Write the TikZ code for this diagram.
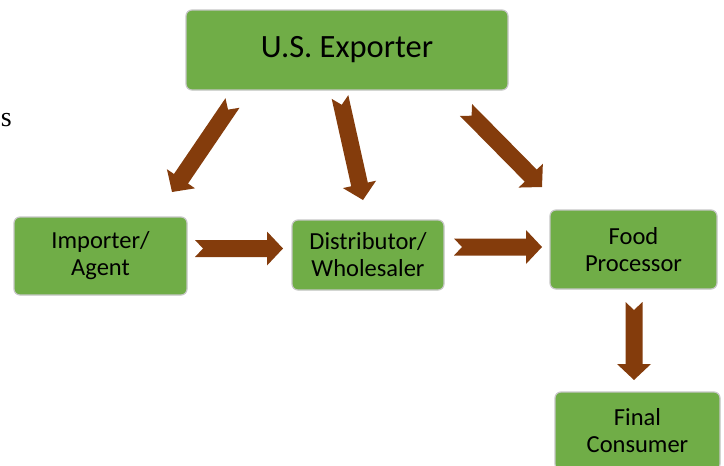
\documentclass[tikz,border=0pt]{standalone}
\usepackage{fontspec}
\setmainfont{Carlito}
\newfontfamily\timesfont{Liberation Serif}
\usetikzlibrary{calc}

\definecolor{boxgreen}{HTML}{70AD47}
\definecolor{arrowbrown}{HTML}{843C0C}

\tikzset{every picture/.style={line width=0.75pt}}
\tikzset{
  chainbox/.style={draw=gray!45, line width=1.2pt, fill=boxgreen, rounded corners=6pt,
    inner sep=0pt, align=center, text=black, font=\fontsize{24.5}{27}\selectfont},
  bigbox/.style={chainbox, font=\fontsize{32.5}{38}\selectfont}
}

% notched block arrow from #1 to #2
\newcommand{\blockarrow}[2]{%
  \coordinate (hb) at ($(#2)!16pt!(#1)$);
  \fill[arrowbrown] ($(#1)!8.5pt!90:(#2)$) -- ($(hb)!8.5pt!90:(#2)$) -- ($(hb)!17pt!90:(#2)$)
    -- (#2) -- ($(hb)!17pt!-90:(#2)$) -- ($(hb)!8.5pt!-90:(#2)$) -- ($(#1)!8.5pt!-90:(#2)$)
    -- ($(#1)!8pt!(#2)$) -- cycle;
}

\begin{document}
\begin{tikzpicture}[x=1pt,y=1pt,yscale=-1,xscale=1]
\useasboundingbox (0,0) rectangle (724,466);

% Text Node
\node (frag) [anchor=base west, inner sep=0pt, font=\timesfont\fontsize{28}{32}\selectfont] at (0.5,126) {s};

%Shape: Boxes
\node (exp) [bigbox, minimum width=322pt, minimum height=80pt] at (347,50) {U.S. Exporter};
\node (imp) [chainbox, minimum width=173pt, minimum height=78pt] at (100.5,256) {Importer/\\Agent};
\node (dist) [chainbox, minimum width=152pt, minimum height=70pt] at (368,255) {Distributor/\\Wholesaler};
\node (proc) [chainbox, minimum width=167pt, minimum height=79pt] at (633.5,249.5) {Food\\Processor};
\node (cons) [chainbox, minimum width=165pt, minimum height=78pt] at (637.5,431) {Final\\Consumer};

%Shape: Arrow ends
\coordinate (e1s) at (232.5,103);
\coordinate (e1t) at (172,192);
\coordinate (e2s) at (340,97);
\coordinate (e2t) at (363,200);
\coordinate (e3s) at (466,110);
\coordinate (e3t) at (542,187);
\coordinate (h1s) at (195,248.5);
\coordinate (h1t) at (283,248.5);
\coordinate (h2s) at (454,247);
\coordinate (h2t) at (542,247);
\coordinate (v1s) at (634,302);
\coordinate (v1t) at (634,380);

%Shape: Block arrows
\blockarrow{e1s}{e1t}
\blockarrow{e2s}{e2t}
\blockarrow{e3s}{e3t}
\blockarrow{h1s}{h1t}
\blockarrow{h2s}{h2t}
\blockarrow{v1s}{v1t}

\end{tikzpicture}
\end{document}
